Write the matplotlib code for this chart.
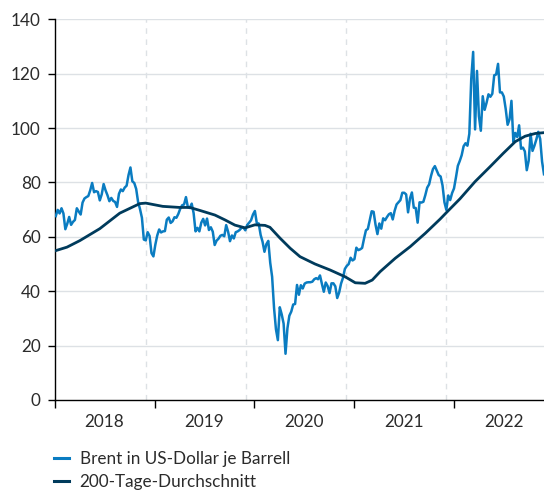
"""
Brent oil price with 200-day moving average, 2018-2022.
"""
import pandas as pd
import matplotlib
matplotlib.use("Agg")
import matplotlib.pyplot as plt

# Weekly Brent prices (Fridays), USD per barrel
brent_2018 = [67.6, 69.9, 68.6, 70.5,
              68.6, 62.8, 64.8, 67.3,
              64.4, 65.5, 66.2, 70.5, 69.3,
              68.2, 72.6, 74.1, 74.6,
              75.0, 77.1, 79.8, 76.4,
              76.8, 76.5, 73.4, 75.6, 79.4,
              77.1, 75.3, 73.1, 74.3,
              73.2, 72.8, 71.0, 75.8, 77.4,
              76.8, 78.1, 78.8, 82.7,
              85.5, 80.4, 79.8, 77.6,
              72.8, 70.2, 67.0, 59.0, 58.7,
              61.7, 60.3, 54.0, 52.8]
brent_2019 = [57.1, 60.5, 62.7, 61.6,
              62.0, 62.1, 66.3, 67.1,
              65.1, 65.7, 67.2, 67.0, 68.4,
              70.3, 71.6, 71.9, 74.6,
              70.9, 70.6, 72.2, 68.7, 62.0,
              63.3, 62.0, 65.2, 66.6,
              64.2, 66.7, 62.5, 63.5,
              61.9, 57.0, 58.6, 59.3, 60.4,
              60.7, 60.2, 64.3, 61.9,
              58.4, 60.5, 59.4, 61.7,
              62.0, 62.5, 63.3, 63.4, 62.4,
              64.4, 65.2, 66.1, 68.2]
brent_2020 = [69.5, 65.0, 64.9, 60.7, 58.2,
              54.5, 57.3, 58.5, 50.5,
              45.3, 33.9, 26.0, 22.0,
              34.1, 31.5, 28.1, 17.0,
              26.4, 31.0, 32.5, 35.1, 35.3,
              42.3, 38.7, 42.2, 41.0,
              42.8, 43.2, 43.3, 43.3, 43.5,
              44.4, 44.8, 44.4, 45.8,
              42.7, 39.8, 43.2, 41.9,
              39.3, 42.9, 42.9, 41.8, 37.5,
              39.5, 42.8, 44.9, 48.2,
              49.3, 50.0, 52.3, 51.3]
brent_2021 = [51.8, 56.0, 55.1, 55.4, 55.9,
              59.3, 62.4, 62.9, 66.1,
              69.4, 69.2, 64.5, 61.0,
              64.9, 63.0, 66.8, 66.1, 67.3,
              68.3, 68.7, 66.4, 69.6,
              71.9, 72.7, 73.5, 76.2,
              76.2, 75.6, 69.0, 74.1, 76.3,
              70.7, 70.6, 65.2, 72.7,
              72.6, 72.9, 75.3, 78.1,
              79.3, 82.4, 84.9, 86.0, 84.4,
              82.7, 82.2, 78.9, 72.7,
              69.9, 75.2, 73.5, 76.1, 77.8]
brent_2022 = [81.8, 86.1, 87.9, 90.0,
              93.3, 94.4, 93.5, 97.9,
              118.1, 128.0, 99.5, 121.0,
              104.4, 99.0, 111.7, 106.7, 109.3,
              112.4, 111.5, 112.6, 119.4,
              119.7, 123.6, 113.1, 113.1,
              111.6, 107.0, 101.2, 103.2, 110.0,
              94.9, 98.2, 96.7, 101.0,
              92.4, 92.8, 91.4, 84.5, 88.0,
              97.9, 91.6, 93.5, 95.8,
              98.6, 96.0, 87.6, 83.0]

# 200-day average, read at irregular dates
avg_dates = ["2018-01-01", "2018-02-15", "2018-04-03", "2018-06-15", "2018-08-27",
             "2018-11-08", "2018-11-30", "2019-01-31", "2019-04-03", "2019-05-10",
             "2019-06-16", "2019-08-10", "2019-09-16", "2019-10-22", "2019-11-28",
             "2020-01-03", "2020-02-09", "2020-02-27", "2020-04-04", "2020-05-11",
             "2020-06-16", "2020-08-10", "2020-10-04", "2020-11-28", "2021-01-04",
             "2021-02-09", "2021-03-07", "2021-04-05", "2021-05-30", "2021-07-24",
             "2021-09-17", "2021-11-10", "2021-12-06", "2022-01-22", "2022-03-18",
             "2022-05-12", "2022-06-29", "2022-08-12", "2022-09-17", "2022-10-24",
             "2022-11-25"]
avg_values = [54.8, 56.2, 58.6, 63.0, 68.7,
              72.2, 72.4, 71.2, 70.8, 70.8,
              69.7, 68.0, 66.2, 64.3, 63.3,
              64.4, 64.2, 63.5, 59.5, 55.8,
              52.7, 50.0, 47.8, 45.3, 43.1,
              42.9, 44.1, 47.2, 52.1, 56.4,
              61.3, 66.5, 69.2, 74.0, 80.3,
              85.8, 90.7, 95.0, 97.0, 98.0,
              98.3]

years = [2018, 2019, 2020, 2021, 2022]
y_ticks = [0, 20, 40, 60, 80, 100, 120, 140]
labels = ["Brent in US-Dollar je Barrell", "200-Tage-Durchschnitt"]

BRENT_COLOR = "#0a7cc1"
AVG_COLOR = "#003b5c"
GRID_COLOR = "#dde1e5"
TEXT_COLOR = "#2b2b2b"
FONT_SIZE = 12.3

plt.rcParams["font.family"] = ["Lato", "DejaVu Sans"]

brent = brent_2018 + brent_2019 + brent_2020 + brent_2021 + brent_2022
brent_dates = pd.date_range("2018-01-05", "2022-11-25", freq="W-FRI")
assert len(brent) == len(brent_dates)

fig = plt.figure(figsize=(5.44, 4.90), dpi=100)
ax = fig.add_axes([0.1005, 0.1837, 0.8995, 0.777])

# Grid: solid horizontal, dashed vertical near year end
for v in y_ticks[1:]:
    ax.axhline(v, color=GRID_COLOR, lw=1.0, zorder=0)
for y in years[:-1]:
    ax.axvline(pd.Timestamp(f"{y}-12-01"), color=GRID_COLOR, lw=1.0,
               ls=(0, (4, 4)), zorder=0)

ax.plot(brent_dates, brent, color=BRENT_COLOR, lw=1.8, label=labels[0], zorder=3)
ax.plot(pd.to_datetime(avg_dates), avg_values, color=AVG_COLOR, lw=2.0,
        label=labels[1], zorder=4)

ax.set_xlim(pd.Timestamp("2018-01-01"), pd.Timestamp("2022-11-25"))
ax.set_ylim(0, 140)

# Ticks at year boundaries, labels centred in each year
ax.set_xticks([pd.Timestamp(f"{y}-01-01") for y in years])
ax.set_xticklabels([])
ax.set_xticks([pd.Timestamp(f"{y}-07-02") for y in years], minor=True)
ax.set_xticklabels([str(y) for y in years], minor=True)
ax.tick_params(axis="x", which="major", length=6, width=1.0, color="black")
ax.tick_params(axis="x", which="minor", length=0, pad=10, labelsize=FONT_SIZE,
               labelcolor=TEXT_COLOR)

ax.set_yticks(y_ticks)
ax.tick_params(axis="y", length=5, width=1.0, pad=5, labelsize=FONT_SIZE,
               labelcolor=TEXT_COLOR)

for side in ["top", "right"]:
    ax.spines[side].set_visible(False)
for side in ["left", "bottom"]:
    ax.spines[side].set_linewidth(1.0)
    ax.spines[side].set_color("black")

leg = ax.legend(loc="upper left", bbox_to_anchor=(0.0993, 0.080),
                bbox_transform=fig.transFigure, frameon=False,
                fontsize=FONT_SIZE, handlelength=0.9, handletextpad=0.6,
                labelspacing=0.42, borderpad=0, borderaxespad=0)
for line in leg.get_lines():
    line.set_linewidth(2.2)
for t in leg.get_texts():
    t.set_color(TEXT_COLOR)

fig.savefig("out.png", dpi=100)
